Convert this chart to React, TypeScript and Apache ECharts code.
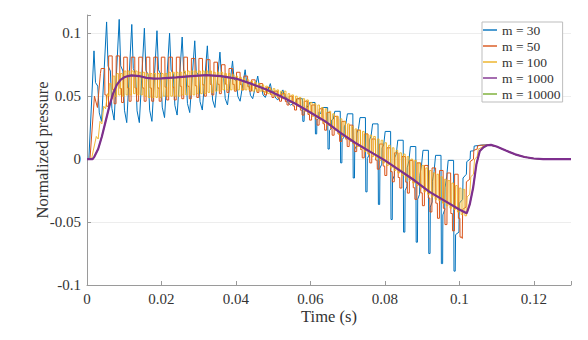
import React, { useEffect, useRef } from "react";
import * as echarts from "echarts";

// ---------- data ----------
const seriesNames = ["m = 30", "m = 50", "m = 100", "m = 1000", "m = 10000"];
const colors = ["#0072BD", "#D95319", "#EDB120", "#7E2F8E", "#77AC30"];
const yTickValues = [-0.1, -0.05, 0, 0.05, 0.1];

// converged response (m = 10000 / m = 1000)
const meanTime = [0, 0.0015, 0.002, 0.003, 0.004, 0.005, 0.006, 0.007, 0.008, 0.009, 0.010, 0.011, 0.012, 0.014, 0.016, 0.018, 0.020, 0.024, 0.028, 0.032, 0.036, 0.040, 0.044, 0.048, 0.052, 0.056, 0.060, 0.064, 0.068, 0.072, 0.076, 0.080, 0.084, 0.088, 0.092, 0.096, 0.100, 0.102, 0.1028, 0.1037, 0.1046, 0.1055, 0.1065, 0.1075, 0.1085];
const meanValue = [0, 0, 0.002, 0.008, 0.018, 0.030, 0.042, 0.052, 0.059, 0.063, 0.065, 0.066, 0.0665, 0.066, 0.0645, 0.064, 0.0642, 0.065, 0.066, 0.0668, 0.066, 0.064, 0.060, 0.0555, 0.050, 0.044, 0.037, 0.030, 0.021, 0.013, 0.006, -0.001, -0.009, -0.017, -0.026, -0.033, -0.040, -0.043, -0.036, -0.023, -0.004, 0.0064, 0.0095, 0.011, 0.0113];

// common decay after the rebound
const decayTime = [0.110, 0.1125, 0.115, 0.1175, 0.120, 0.1225, 0.130];
const decayValue = [0.010, 0.0068, 0.0038, 0.0017, 0.0005, 0, 0];

// m = 30: one high / low per cycle
const m30Start = 0.00188;
const m30Period = 0.003383;
const m30High = [0.086, 0.109, 0.111, 0.107, 0.104, 0.102, 0.100, 0.097, 0.094, 0.090, 0.085, 0.078, 0.071, 0.066, 0.060, 0.055, 0.048, 0.045, 0.041, 0.038, 0.036, 0.033, 0.028, 0.022, 0.015, 0.010, 0.007, 0.003, -0.001];
const m30Low = [0.030, 0.031, 0.029, 0.029, 0.030, 0.033, 0.035, 0.037, 0.039, 0.041, 0.043, 0.046, 0.048, 0.049, 0.047, 0.043, 0.030, 0.020, 0.008, -0.003, -0.015, -0.026, -0.036, -0.048, -0.058, -0.066, -0.075, -0.083, -0.089];
const m30LeadT = [0, 0.0005];
const m30LeadV = [0, 0];
const m30TailT = [0.0990, 0.0999, 0.1000, 0.1009, 0.1010, 0.1019, 0.1020, 0.1029, 0.1030, 0.1039, 0.1040, 0.1050, 0.1060, 0.1080];
const m30TailV = [-0.060, -0.058, -0.035, -0.032, -0.015, -0.012, -0.002, 0.000, 0.0064, 0.0066, 0.0104, 0.0108, 0.0112, 0.0113];

// m = 50
const m50Start = 0.0038;
const m50Period = 0.00202;
const m50High = [0.072, 0.082, 0.082, 0.081, 0.081, 0.081, 0.081, 0.081, 0.081, 0.081,
  0.081, 0.081, 0.080, 0.080, 0.079, 0.077, 0.075, 0.072, 0.069, 0.066,
  0.063, 0.060, 0.057, 0.054, 0.052, 0.050, 0.048, 0.046, 0.043, 0.040,
  0.037, 0.034, 0.030, 0.027, 0.023, 0.020, 0.016, 0.012, 0.009, 0.005,
  0.002, -0.001, -0.003, -0.005, -0.007, -0.009, -0.011, -0.012];
const m50Low = [0.042, 0.044, 0.045, 0.046, 0.046, 0.046, 0.046, 0.046, 0.047, 0.047,
  0.048, 0.048, 0.049, 0.050, 0.051, 0.052, 0.053, 0.054, 0.055, 0.054,
  0.053, 0.051, 0.049, 0.046, 0.043, 0.039, 0.035, 0.031, 0.027, 0.023,
  0.019, 0.014, 0.010, 0.006, 0.001, -0.003, -0.008, -0.013, -0.018, -0.023,
  -0.027, -0.032, -0.037, -0.042, -0.047, -0.052, -0.057, -0.062];
const m50LeadT = [0, 0.0008, 0.0020, 0.0028, 0.0036];
const m50LeadV = [0, 0, 0.050, 0.041, 0.068];
const m50TailT = [0.1008, 0.1009, 0.1018, 0.1019, 0.1028, 0.1029, 0.1038, 0.1039, 0.1048, 0.1049, 0.1058, 0.1080];
const m50TailV = [-0.063, -0.040, -0.038, -0.018, -0.016, -0.002, 0.000, 0.007, 0.008, 0.0105, 0.011, 0.0113];

// m = 100
const m100Start = 0.006;
const m100Period = 0.001;
const m100High = [0.060, 0.066, 0.068, 0.068, 0.070, 0.070, 0.070, 0.070, 0.069, 0.069,
  0.068, 0.068, 0.068, 0.068, 0.068, 0.068, 0.069, 0.069, 0.069, 0.069,
  0.070, 0.070, 0.070, 0.070, 0.070, 0.070, 0.070, 0.070, 0.069, 0.069,
  0.069, 0.068, 0.068, 0.067, 0.066, 0.065, 0.064, 0.063, 0.062, 0.061,
  0.060, 0.059, 0.058, 0.056, 0.056, 0.055, 0.054, 0.054, 0.052, 0.051,
  0.050, 0.049, 0.048, 0.047, 0.045, 0.044, 0.043, 0.041, 0.040, 0.038,
  0.036, 0.034, 0.032, 0.030, 0.028, 0.026, 0.024, 0.023, 0.022, 0.020,
  0.019, 0.018, 0.016, 0.015, 0.013, 0.011, 0.009, 0.007, 0.005, 0.004,
  0.002, 0.000, -0.001, -0.003, -0.005, -0.007, -0.009, -0.011, -0.012, -0.014,
  -0.016, -0.017, -0.019, -0.021, -0.023, -0.024];
const m100Low = [0.048, 0.050, 0.051, 0.050, 0.051, 0.051, 0.052, 0.051, 0.051, 0.050,
  0.049, 0.049, 0.049, 0.049, 0.050, 0.050, 0.050, 0.050, 0.050, 0.051,
  0.051, 0.051, 0.051, 0.052, 0.052, 0.052, 0.053, 0.053, 0.054, 0.054,
  0.055, 0.055, 0.055, 0.055, 0.055, 0.055, 0.055, 0.055, 0.054, 0.054,
  0.054, 0.053, 0.052, 0.051, 0.050, 0.049, 0.048, 0.047, 0.045, 0.044,
  0.042, 0.040, 0.038, 0.036, 0.034, 0.033, 0.031, 0.029, 0.027, 0.025,
  0.023, 0.020, 0.018, 0.016, 0.014, 0.012, 0.010, 0.008, 0.006, 0.004,
  0.002, 0.001, -0.001, -0.003, -0.005, -0.007, -0.009, -0.011, -0.013, -0.015,
  -0.017, -0.019, -0.021, -0.023, -0.026, -0.028, -0.030, -0.032, -0.033, -0.035,
  -0.037, -0.039, -0.040, -0.042, -0.044, -0.045];
const m100LeadT = [0, 0.0012, 0.0025, 0.0030, 0.0035, 0.0040, 0.0045, 0.0050, 0.0055, 0.0059];
const m100LeadV = [0, 0, 0.018, 0.016, 0.030, 0.028, 0.042, 0.040, 0.052, 0.050];
const m100TailT = [0.1021, 0.1028, 0.1031, 0.1038, 0.1041, 0.1048, 0.1051, 0.1058, 0.1066, 0.1080];
const m100TailV = [-0.030, -0.028, -0.014, -0.012, 0.000, 0.002, 0.008, 0.009, 0.0105, 0.0113];

// ---------- waveform shapes within one cycle (fraction of cycle, fraction of low->high) ----------
const shape30Rise = [[0, 1], [0.12, 0.55], [0.3, 0.5], [0.42, 0.12], [0.6, 0]];
const shape30Fall = [[0, 0.85], [0.12, 1], [0.55, 1], [0.58, 0], [0.68, 0], [0.7, 0.45], [0.85, 0.5], [0.87, 0.7]];
const shape50 = [[0, 1], [0.47, 1], [0.5, 0.3], [0.7, 0.3], [0.72, 0], [0.98, 0]];
const shape100 = [[0, 1], [0.45, 1], [0.5, 0], [0.95, 0]];

const pairs = (t: number[], v: number[]) => t.map((x, i) => [x, v[i]]);

function wave(start: number, period: number, highs: number[], lows: number[], shapeOf: (k: number) => number[][], lastCut = 1) {
  const pts: number[][] = [];
  highs.forEach((h, k) => {
    const l = lows[k];
    shapeOf(k).forEach(([f, lv]) => {
      if (k === highs.length - 1 && f > lastCut) return;
      pts.push([start + (k + f) * period, l + lv * (h - l)]);
    });
  });
  return pts;
}

const decay = pairs(decayTime, decayValue);
const meanData = pairs(meanTime, meanValue).concat(decay);
const m30Data = pairs(m30LeadT, m30LeadV)
  .concat(wave(m30Start, m30Period, m30High, m30Low, (k) => (k < 16 ? shape30Rise : shape30Fall), 0.68))
  .concat(pairs(m30TailT, m30TailV), decay);
const m50Data = pairs(m50LeadT, m50LeadV)
  .concat(wave(m50Start, m50Period, m50High, m50Low, () => shape50))
  .concat(pairs(m50TailT, m50TailV), decay);
const m100Data = pairs(m100LeadT, m100LeadV)
  .concat(wave(m100Start, m100Period, m100High, m100Low, () => shape100))
  .concat(pairs(m100TailT, m100TailV), decay);

const isMultiple = (v: number, step: number) => Math.abs(v / step - Math.round(v / step)) < 1e-6;

export default function App() {
  const ref = useRef<HTMLDivElement>(null);
  useEffect(() => {
    if (!ref.current) return;
    const chart = echarts.init(ref.current, null, { renderer: "svg" });
    const font = "Times New Roman";
    const ink = "#333333";
    const lineSeries = (name: string, data: number[][], color: string, width: number, z: number) => ({
      name,
      type: "line",
      data,
      symbol: "none",
      showSymbol: false,
      z,
      lineStyle: { color, width },
      itemStyle: { color },
    });
    chart.setOption({
      animation: false,
      backgroundColor: "#ffffff",
      color: colors,
      grid: { left: 87, right: 17, top: 15, bottom: 55 },
      legend: {
        orient: "vertical",
        left: 482,
        top: 22,
        icon: "path://M0,0L14,0L14,1.4L0,1.4Z",
        itemWidth: 14,
        itemHeight: 14,
        itemGap: 2,
        padding: [1, 2, 1, 1],
        backgroundColor: "#ffffff",
        borderColor: "#bdbdbd",
        borderWidth: 1,
        borderRadius: 0,
        textStyle: { fontFamily: font, fontSize: 13.5, color: ink },
        data: seriesNames,
      },
      xAxis: {
        type: "value",
        min: 0,
        max: 0.13,
        interval: 0.02,
        name: "Time (s)",
        nameLocation: "middle",
        nameGap: 23,
        nameMoveOverlap: false,
        nameTextStyle: { fontFamily: font, fontSize: 16.5, color: ink },
        axisLine: { show: true, onZero: false, lineStyle: { color: "#9a9a9a", width: 1 } },
        axisTick: { show: true, inside: true, length: 4, lineStyle: { color: "#9a9a9a" } },
        axisLabel: {
          fontFamily: font,
          fontSize: 15,
          color: ink,
          margin: 6,
          formatter: (v: number) => (isMultiple(v, 0.02) && v <= 0.1201 ? String(+v.toFixed(2)) : ""),
        },
        splitLine: { show: false },
      },
      yAxis: {
        type: "value",
        min: -0.1,
        max: 0.1145,
        interval: 0.05,
        name: "Normalized pressure",
        nameLocation: "middle",
        nameGap: 36,
        nameMoveOverlap: false,
        nameTextStyle: { fontFamily: font, fontSize: 16.5, color: ink },
        axisLine: { show: true, onZero: false, lineStyle: { color: "#9a9a9a", width: 1 } },
        axisTick: { show: true, inside: true, length: 4, lineStyle: { color: "#9a9a9a" } },
        axisLabel: {
          fontFamily: font,
          fontSize: 15,
          color: ink,
          margin: 6,
          formatter: (v: number) => (isMultiple(v, 0.05) && v <= 0.1001 ? String(+v.toFixed(2)) : ""),
        },
        splitLine: { show: false },
      },
      series: [
        {
          ...lineSeries(seriesNames[0], m30Data, colors[0], 1, 2),
          markLine: {
            silent: true,
            symbol: "none",
            label: { show: false },
            lineStyle: { color: "#ededed", width: 1, type: "solid" },
            data: yTickValues.filter((v) => v > -0.1).map((v) => ({ yAxis: v })),
            z: 0,
          },
        },
        lineSeries(seriesNames[1], m50Data, colors[1], 1, 2),
        lineSeries(seriesNames[2], m100Data, colors[2], 0.9, 2),
        lineSeries(seriesNames[3], meanData, colors[3], 2.2, 4),
        lineSeries(seriesNames[4], meanData, colors[4], 1.2, 3),
      ],
    });
    return () => chart.dispose();
  }, []);
  return <div ref={ref} style={{ position: "fixed", left: 0, top: 0, width: 588, height: 340, background: "#fff" }} />;
}
